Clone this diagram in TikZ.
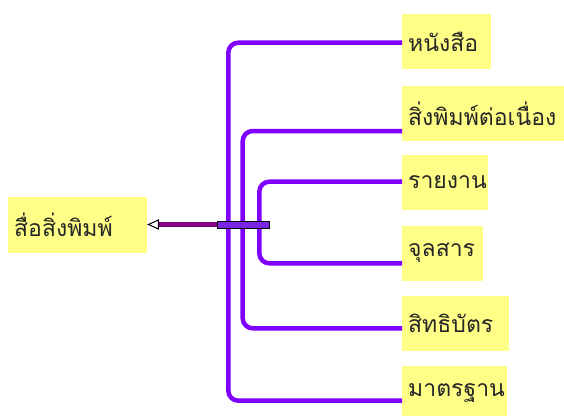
\documentclass[tikz,border=0pt]{standalone}
\usepackage{fontspec}
\newfontfamily\thaifont[Script=Thai]{Loma}
\usetikzlibrary{arrows.meta}
\definecolor{boxy}{RGB}{255,255,136}
\definecolor{conn}{RGB}{128,0,255}
\definecolor{barfill}{RGB}{122,36,230}
\definecolor{arrowline}{RGB}{128,0,128}
\tikzset{
  box/.style={fill=boxy, inner xsep=6pt, inner ysep=0pt, minimum height=55pt, anchor=north west, align=left, font=\thaifont\fontsize{23}{26}\selectfont, text=black!85},
  connline/.style={draw=conn, line width=4.5pt, rounded corners=10pt},
  barbox/.style={draw=black, fill=barfill, line width=0.8pt, minimum width=52pt, minimum height=7pt, inner sep=0pt, anchor=west},
  linkline/.style={draw=arrowline, line width=4.5pt},
}
\begin{document}
\begin{tikzpicture}[x=1pt,y=-1pt]
\useasboundingbox (0,0) rectangle (564,415);
\node[box, text width=127pt, minimum height=56pt] (src) at (8,197) {สื่อสิ่งพิมพ์};
\node[box, text width=77pt] (b1) at (402,14) {หนังสือ};
\node[box, text width=152pt] (b2) at (402,85.7) {สิ่งพิมพ์ต่อเนื่อง};
\node[box, text width=74pt] (b3) at (402,154.3) {รายงาน};
\node[box, text width=69pt] (b4) at (402,225.3) {จุลสาร};
\node[box, text width=95pt] (b5) at (402,296) {สิทธิบัตร};
\node[box, text width=93pt] (b6) at (402,365.3) {มาตรฐาน};
\coordinate (c1) at ([yshift=-28.7pt]b1.north west);
\coordinate (c2) at ([yshift=-45.3pt]b2.north west);
\coordinate (c3) at ([yshift=-27.4pt]b3.north west);
\coordinate (c4) at ([yshift=-38pt]b4.north west);
\coordinate (c5) at ([yshift=-32.3pt]b5.north west);
\coordinate (c6) at ([yshift=-35.4pt]b6.north west);
\coordinate (barpos) at (217.3,224.5);
\coordinate (v1) at ([xshift=11pt]barpos);
\coordinate (v2) at ([xshift=25.4pt]barpos);
\coordinate (v3) at ([xshift=42pt]barpos);
\draw[connline] (c1) -| (v1) |- (c6);
\draw[connline] (c2) -| (v2) |- (c5);
\draw[connline] (c3) -| (v3) |- (c4);
\coordinate (tip) at ([xshift=1pt]src.east |- barpos);
\coordinate (tipbase) at ([xshift=10pt]tip);
\draw[linkline] (barpos) -- (tipbase);
\node[barbox] (bar) at (barpos) {};
\draw[black, line width=1pt, fill=white, line join=miter] (tip) -- ([yshift=4.5pt]tipbase) -- ([yshift=-4.5pt]tipbase) -- cycle;
\end{tikzpicture}
\end{document}
